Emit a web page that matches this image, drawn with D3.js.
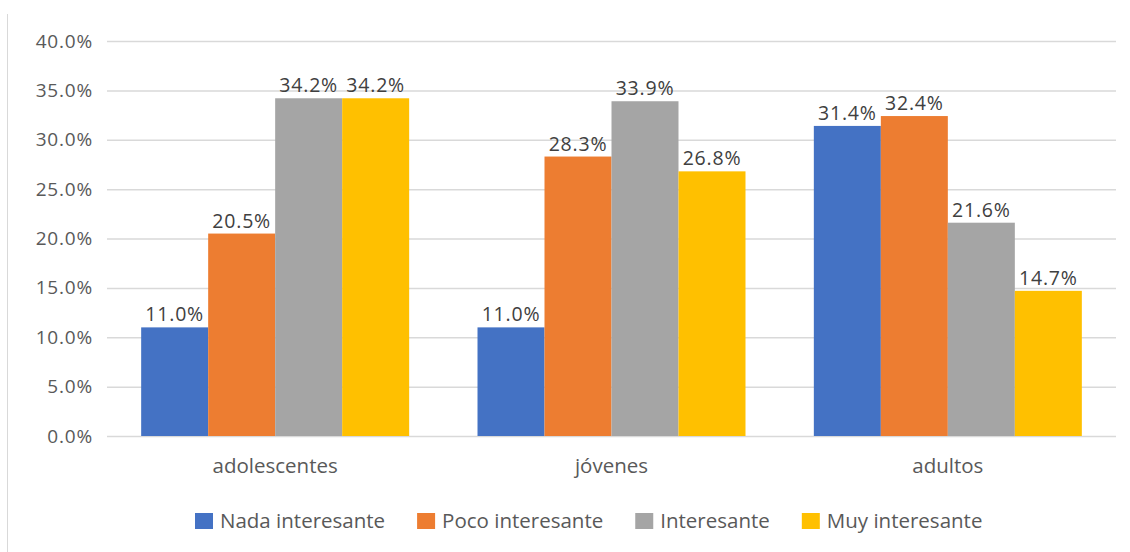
<!DOCTYPE html>
<html>
<head>
<meta charset="utf-8">
<script src="https://cdn.jsdelivr.net/npm/d3@7"></script>
<style>
  body { margin: 0; background: #fff; }
  text { font-family: "Open Sans", "Noto Sans", sans-serif; }
</style>
</head>
<body>
<div class="chart"></div>
<script>
const categories = ['adolescentes', 'jóvenes', 'adultos'];
const seriesNames = ['Nada interesante', 'Poco interesante', 'Interesante', 'Muy interesante'];
const nada = [11.0, 11.0, 31.4];
const poco = [20.5, 28.3, 32.4];
const interesante = [34.2, 33.9, 21.6];
const muy = [34.2, 26.8, 14.7];
const yTicks = [0, 5, 10, 15, 20, 25, 30, 35, 40];
const colors = ['#4472c4', '#ed7d31', '#a5a5a5', '#ffc000'];

const values = [nada, poco, interesante, muy];
const data = categories.map((c, i) => ({ category: c, vals: seriesNames.map((s, j) => ({ key: s, idx: j, value: values[j][i] })) }));

const width = 1130, height = 552;
const plot = { left: 107, right: 1116, top: 41, bottom: 436 };

const svg = d3.select('div.chart').append('svg').attr('width', width).attr('height', height);

// chart frame line on the left
svg.append('line').attr('x1', 7.5).attr('x2', 7.5).attr('y1', 14).attr('y2', height)
    .attr('stroke', '#d9d9d9').attr('stroke-width', 1);

const x0 = d3.scaleBand().domain(categories).range([plot.left, plot.right]).padding(0);
const x1 = d3.scaleBand().domain(seriesNames).range([0, x0.bandwidth()]).paddingInner(0).paddingOuter(0.51);
const y = d3.scaleLinear().domain([0, 40]).range([plot.bottom, plot.top]);

const yAxis = d3.axisLeft(y).tickValues(yTicks).tickFormat(d => d.toFixed(1) + '%')
    .tickSize(-(plot.right - plot.left)).tickPadding(14);
const gy = svg.append('g').classed('y-axis', true).attr('transform', `translate(${plot.left},0)`).call(yAxis);
gy.select('.domain').remove();
gy.selectAll('line').attr('stroke', '#d9d9d9').attr('stroke-width', 1.5);
gy.selectAll('text').attr('fill', '#595959').style('font-size', '19px').style('letter-spacing', '0.8px');

const xAxis = d3.axisBottom(x0).tickSize(0).tickPadding(22);
const gx = svg.append('g').classed('x-axis', true).attr('transform', `translate(0,${plot.bottom})`).call(xAxis);
gx.select('.domain').remove();
gx.selectAll('text').attr('fill', '#595959').style('font-size', '20.5px');

const groups = svg.append('g').selectAll('g.group').data(data).enter().append('g')
    .attr('transform', d => `translate(${x0(d.category)},0)`);

groups.selectAll('rect').data(d => d.vals).enter().append('rect')
    .attr('x', d => x1(d.key))
    .attr('width', x1.bandwidth())
    .attr('y', d => y(d.value))
    .attr('height', d => y(0) - y(d.value))
    .attr('fill', d => colors[d.idx]);

groups.selectAll('text.label').data(d => d.vals).enter().append('text')
    .classed('label', true)
    .attr('x', d => x1(d.key) + x1.bandwidth() / 2)
    .attr('y', d => y(d.value) - 6)
    .attr('text-anchor', 'middle')
    .attr('fill', '#404040')
    .style('font-size', '19.5px')
    .style('letter-spacing', '0.8px')
    .text(d => d.value.toFixed(1) + '%');

// legend, laid out left to right by measured text width
const legend = svg.append('g').classed('legend', true);
let lx = 195;
seriesNames.forEach((name, i) => {
    const item = legend.append('g').attr('transform', `translate(${lx},513)`);
    item.append('rect').attr('width', 18).attr('height', 16).attr('fill', colors[i]);
    const t = item.append('text').attr('x', 25).attr('y', 15).attr('fill', '#595959')
        .style('font-size', '20.5px').text(name);
    lx += 25 + t.node().getComputedTextLength() + 32;
});
</script>
</body>
</html>
